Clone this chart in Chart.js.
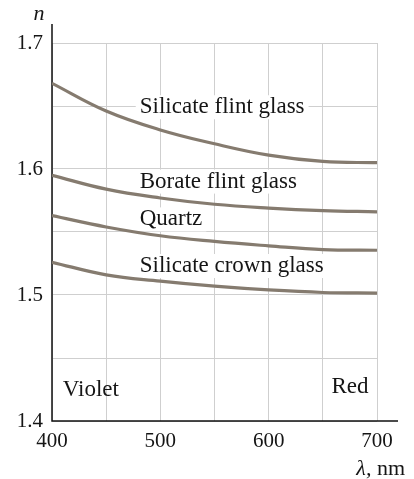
<!DOCTYPE html>
<html>
<head>
<meta charset="utf-8">
<script src="https://cdn.jsdelivr.net/npm/chart.js@4.4.1/dist/chart.umd.min.js"></script>
<style>
  html, body { margin: 0; padding: 0; background: #fff; }
  #wrap { width: 414px; height: 479px; position: relative; }
</style>
</head>
<body>
<div id="wrap"><canvas id="c" width="414" height="479"></canvas></div>
<script>
// Refractive index n versus wavelength for four transparent materials
const wavelengths = [400, 450, 500, 550, 600, 650, 700];
const silicateFlint = [1.668, 1.646, 1.631, 1.620, 1.611, 1.606, 1.605];
const borateFlint   = [1.595, 1.584, 1.577, 1.572, 1.569, 1.567, 1.566];
const quartz        = [1.563, 1.554, 1.547, 1.5425, 1.539, 1.536, 1.5355];
const silicateCrown = [1.526, 1.516, 1.511, 1.507, 1.504, 1.502, 1.5015];

const seriesNames = ['Silicate flint glass', 'Borate flint glass', 'Quartz', 'Silicate crown glass'];
const seriesValues = [silicateFlint, borateFlint, quartz, silicateCrown];

// Curve labels placed in data units: [left wavelength, n at text middle]
const curveLabels = [
  { text: 'Silicate flint glass', x: 481, y: 1.649 },
  { text: 'Borate flint glass',   x: 481, y: 1.590 },
  { text: 'Quartz',               x: 481, y: 1.560 },
  { text: 'Silicate crown glass', x: 481, y: 1.523 }
];
const endLabels = [
  { text: 'Violet', x: 410, y: 1.4246, align: 'left' },
  { text: 'Red',    x: 675, y: 1.427,  align: 'center' }
];

const xTicks = [400, 500, 600, 700];
const yTicks = [1.4, 1.5, 1.6, 1.7];

const SERIF = '"Liberation Serif", "DejaVu Serif", serif';
const curveColor = '#857b6f';
const gridColor = '#cfcfcf';
const textColor = '#151515';

const decorations = {
  id: 'decorations',
  beforeDatasetsDraw(chart) {
    const { ctx, scales: { x, y } } = chart;
    ctx.save();
    // black axis lines, slightly longer than the grid
    ctx.strokeStyle = '#111';
    ctx.lineWidth = 1.5;
    ctx.beginPath();
    ctx.moveTo(x.getPixelForValue(400), y.getPixelForValue(1.7) - 19);
    ctx.lineTo(x.getPixelForValue(400), y.getPixelForValue(1.4));
    ctx.lineTo(x.getPixelForValue(700) + 21, y.getPixelForValue(1.4));
    ctx.stroke();

    // curve names on white boxes that cut the grid
    ctx.font = '23px ' + SERIF;
    ctx.textBaseline = 'middle';
    ctx.textAlign = 'left';
    curveLabels.forEach(l => {
      const px = x.getPixelForValue(l.x);
      const py = y.getPixelForValue(l.y);
      const w = ctx.measureText(l.text).width;
      ctx.fillStyle = '#fff';
      ctx.fillRect(px - 4, py - 12, w + 8, 24);
      ctx.fillStyle = textColor;
      ctx.fillText(l.text, px, py);
    });
    endLabels.forEach(l => {
      ctx.textAlign = l.align;
      ctx.fillStyle = textColor;
      ctx.fillText(l.text, x.getPixelForValue(l.x), y.getPixelForValue(l.y));
    });

    // axis titles
    ctx.font = 'italic 22px ' + SERIF;
    ctx.textAlign = 'center';
    ctx.fillText('n', x.getPixelForValue(400) - 13, y.getPixelForValue(1.7) - 29);
    ctx.font = '22px ' + SERIF;
    ctx.textAlign = 'right';
    const baseY = y.getPixelForValue(1.4) + 48;
    const rightX = x.getPixelForValue(700) + 28;
    ctx.fillText('nm', rightX, baseY);
    const nmW = ctx.measureText(' nm').width;
    ctx.font = 'italic 22px ' + SERIF;
    ctx.fillText('λ,', rightX - nmW, baseY);
    ctx.restore();
  }
};

new Chart(document.getElementById('c'), {
  type: 'line',
  data: {
    labels: wavelengths,
    datasets: seriesValues.map((vals, i) => ({
      label: seriesNames[i],
      data: vals.map((v, j) => ({ x: wavelengths[j], y: v })),
      borderColor: curveColor,
      borderWidth: 3.2,
      pointRadius: 0,
      tension: 0.4,
      fill: false
    }))
  },
  options: {
    responsive: false,
    animation: false,
    devicePixelRatio: 1,
    layout: { padding: { left: 0, top: 43, right: 37, bottom: 0 } },
    plugins: { legend: { display: false }, tooltip: { enabled: false } },
    scales: {
      x: {
        type: 'linear',
        min: 400, max: 700,
        afterFit(s) { s.height = 58; },
        border: { display: false },
        grid: { color: gridColor, lineWidth: 1, drawTicks: false },
        afterBuildTicks(s) {
          s.ticks = [400, 450, 500, 550, 600, 650, 700].map(v => ({ value: v }));
        },
        ticks: {
          padding: 8,
          maxRotation: 0,
          color: textColor,
          font: { family: SERIF, size: 21 },
          callback: v => xTicks.includes(v) ? String(v) : ''
        }
      },
      y: {
        type: 'linear',
        min: 1.4, max: 1.7,
        afterFit(s) { s.width = 52; },
        border: { display: false },
        grid: { color: gridColor, lineWidth: 1, drawTicks: false },
        afterBuildTicks(s) {
          s.ticks = [1.4, 1.45, 1.5, 1.55, 1.6, 1.65, 1.7].map(v => ({ value: v }));
        },
        ticks: {
          padding: 9,
          color: textColor,
          font: { family: SERIF, size: 21 },
          callback: v => {
            const hit = yTicks.find(t => Math.abs(t - v) < 1e-6);
            return hit !== undefined ? hit.toFixed(1) : '';
          }
        }
      }
    }
  },
  plugins: [decorations]
});
</script>
</body>
</html>
